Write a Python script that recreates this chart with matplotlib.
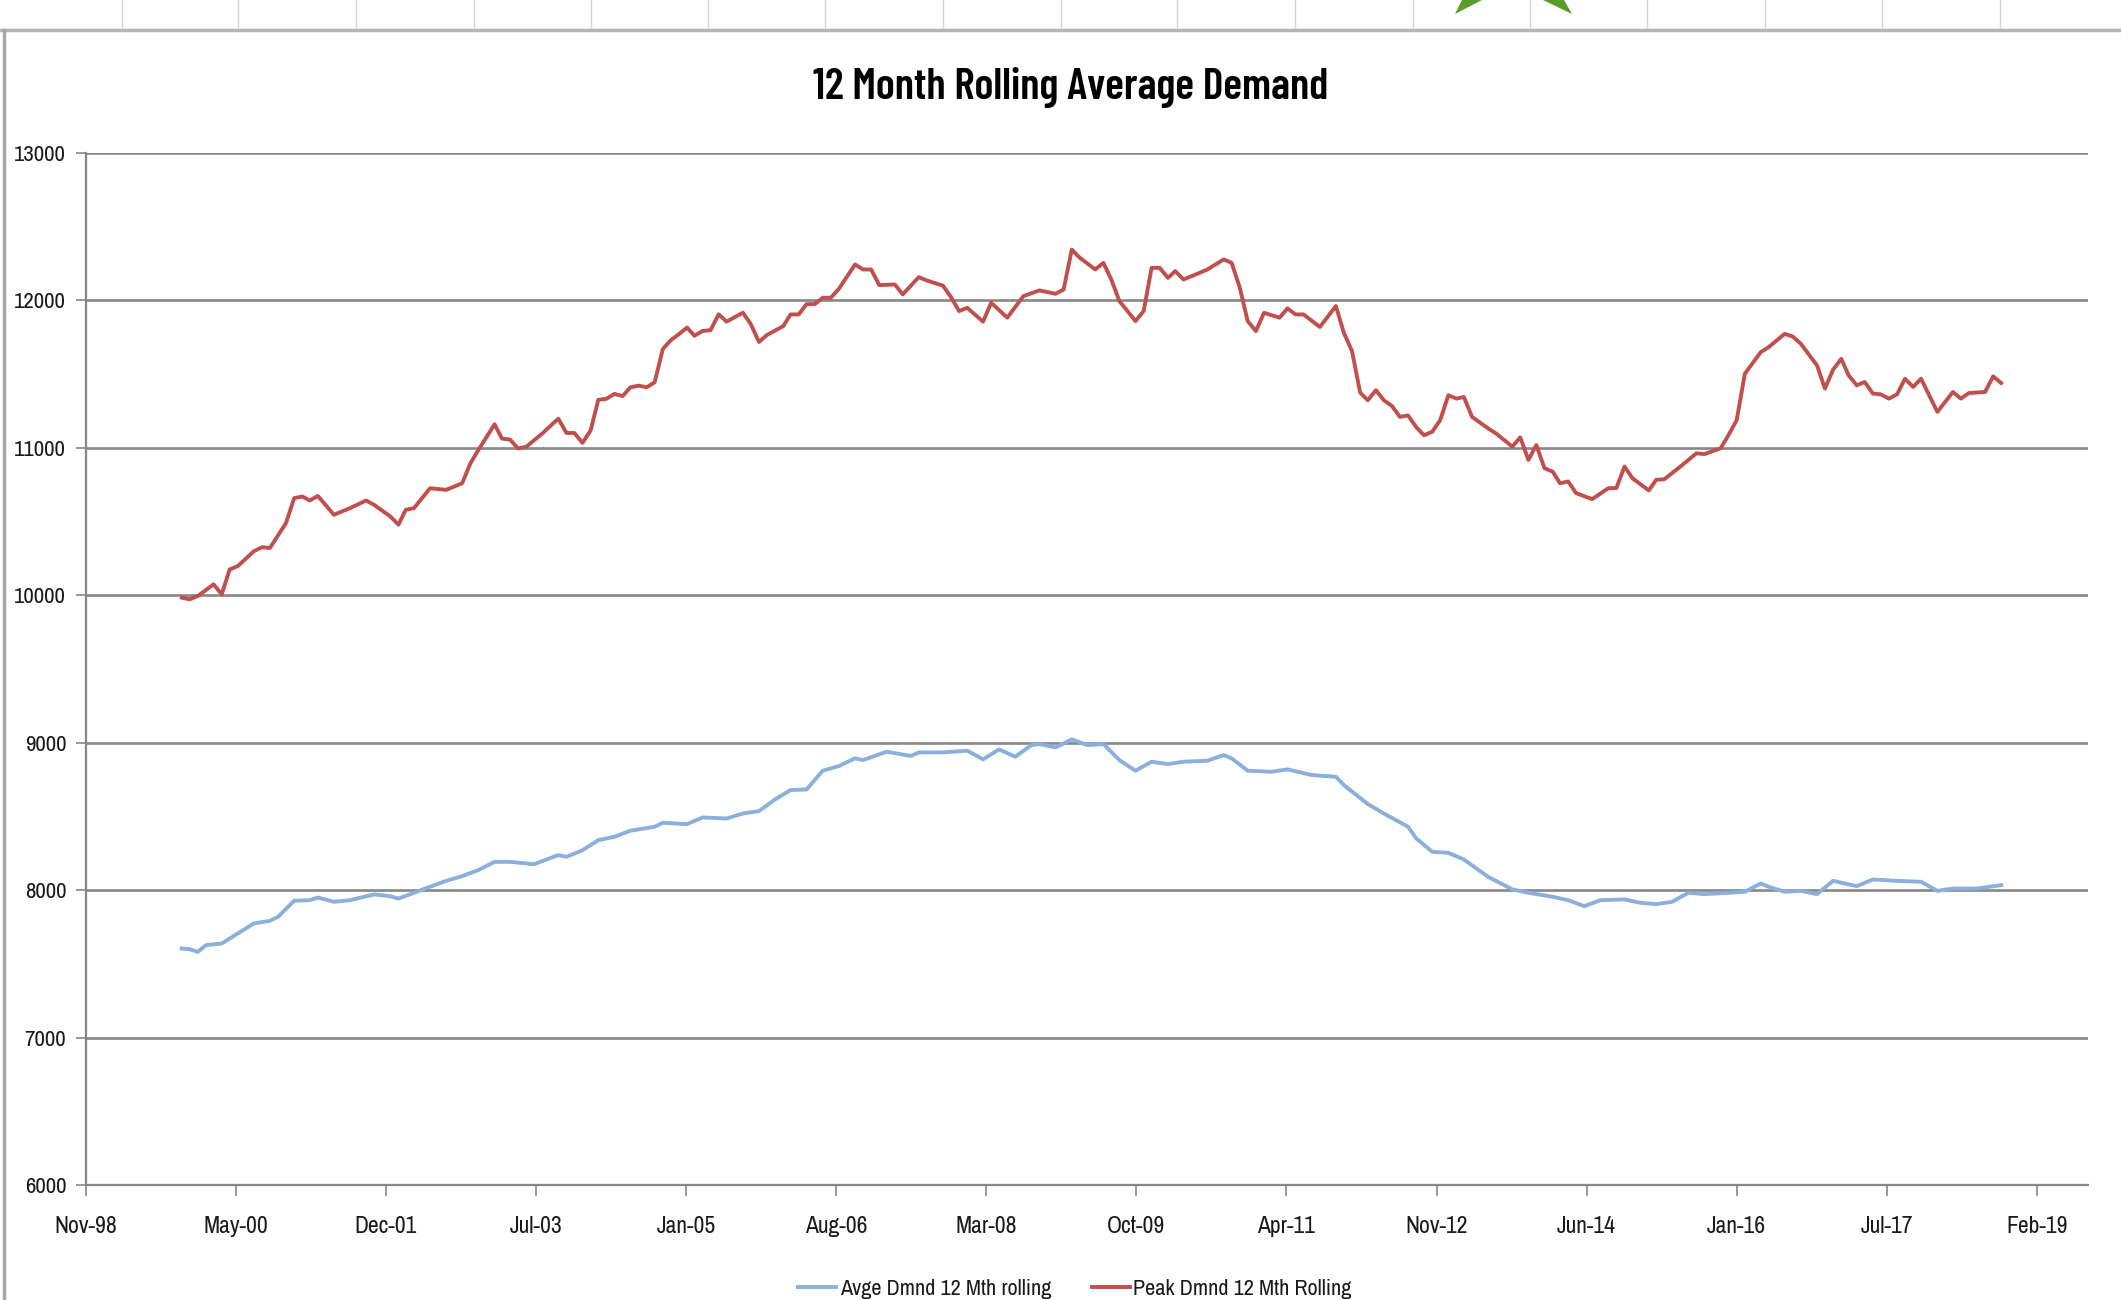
import matplotlib
matplotlib.use("Agg")
import matplotlib.pyplot as plt
import pandas as pd
from matplotlib.lines import Line2D
from matplotlib.patches import Polygon

# 12 month rolling demand.
# Months are counted from Nov-1999, the first plotted month.
peak_months = [0, 1, 2, 4, 5, 6, 7, 9, 10, 11,
               13, 14, 15, 16, 17, 19, 21, 23, 24, 26,
               27, 28, 29, 31, 33, 35, 36, 37, 39, 40,
               41, 42, 43, 45, 47, 48, 49, 50, 51, 52,
               53, 54, 55, 56, 57, 58, 59, 60, 61, 62,
               63, 64, 65, 66, 67, 68, 70, 71, 72, 73,
               75, 76, 77, 78, 79, 80, 81, 82, 84, 85,
               86, 87, 89, 90, 92, 93, 95, 96, 97, 98,
               100, 101, 103, 105, 107, 109, 110, 111, 112, 114,
               115, 116, 117, 119, 120, 121, 122, 123, 124, 125,
               127, 128, 130, 131, 132, 133, 134, 135, 137, 138,
               139, 140, 142, 144, 145, 146, 147, 148, 149, 150,
               151, 152, 153, 154, 155, 156, 157, 158, 159, 160,
               161, 163, 164, 166, 167, 168, 169, 170, 171, 172,
               173, 174, 176, 178, 179, 180, 181, 183, 184, 185,
               187, 189, 190, 192, 193, 194, 195, 197, 198, 200,
               201, 202, 204, 205, 206, 207, 208, 209, 210, 211,
               212, 213, 214, 215, 216, 217, 219, 221, 222, 223,
               225, 226, 227]
peak_values = [9984, 9973, 9995, 10074, 10007, 10175, 10198, 10299, 10326, 10321,
               10490, 10659, 10670, 10643, 10674, 10546, 10591, 10643, 10613, 10535,
               10479, 10580, 10591, 10726, 10715, 10760, 10894, 10984, 11160, 11063,
               11056, 10996, 11007, 11097, 11198, 11101, 11101, 11034, 11119, 11326,
               11333, 11366, 11351, 11411, 11422, 11411, 11445, 11670, 11730, 11771,
               11816, 11760, 11793, 11798, 11906, 11856, 11917, 11840, 11718, 11765,
               11825, 11905, 11905, 11975, 11975, 12018, 12018, 12080, 12244, 12210,
               12210, 12104, 12108, 12041, 12158, 12135, 12100, 12020, 11928, 11950,
               11856, 11984, 11883, 12029, 12068, 12045, 12074, 12345, 12293, 12210,
               12255, 12142, 11995, 11860, 11928, 12221, 12221, 12153, 12199, 12142,
               12187, 12210, 12278, 12255, 12086, 11860, 11792, 11916, 11883, 11946,
               11905, 11905, 11820, 11962, 11781, 11657, 11375, 11323, 11391, 11323,
               11284, 11210, 11220, 11140, 11085, 11110, 11188, 11357, 11334, 11345,
               11210, 11132, 11098, 11008, 11071, 10918, 11019, 10862, 10839, 10760,
               10772, 10693, 10652, 10727, 10727, 10873, 10794, 10711, 10783, 10787,
               10873, 10963, 10958, 10997, 11087, 11188, 11503, 11649, 11683, 11773,
               11755, 11705, 11559, 11402, 11530, 11604, 11492, 11424, 11447, 11368,
               11363, 11334, 11363, 11469, 11413, 11469, 11244, 11379, 11334, 11372,
               11379, 11485, 11440]

avg_months = [0, 1, 2, 3, 5, 7, 9, 11, 12, 14,
              16, 17, 19, 21, 24, 26, 27, 29, 31, 33,
              35, 37, 39, 41, 44, 47, 48, 50, 52, 54,
              56, 59, 60, 63, 65, 68, 70, 72, 74, 76,
              78, 80, 82, 84, 85, 88, 91, 92, 95, 98,
              100, 102, 104, 106, 107, 109, 110, 111, 113, 115,
              117, 119, 121, 123, 125, 128, 130, 131, 133, 136,
              138, 141, 144, 145, 148, 150, 153, 154, 156, 158,
              160, 163, 166, 168, 171, 173, 175, 177, 180, 182,
              184, 186, 188, 190, 193, 195, 197, 198, 200, 202,
              204, 206, 209, 211, 214, 217, 219, 221, 224, 227]
avg_values = [7604, 7600, 7581, 7627, 7638, 7706, 7774, 7792, 7819, 7928,
              7932, 7950, 7921, 7932, 7971, 7959, 7943, 7982, 8023, 8063,
              8095, 8136, 8192, 8192, 8176, 8238, 8226, 8271, 8339, 8362,
              8403, 8430, 8457, 8448, 8493, 8486, 8520, 8536, 8615, 8679,
              8683, 8810, 8842, 8894, 8882, 8939, 8910, 8934, 8934, 8946,
              8887, 8955, 8905, 8984, 8991, 8968, 8995, 9023, 8984, 8991,
              8882, 8810, 8871, 8855, 8871, 8878, 8916, 8894, 8810, 8803,
              8819, 8781, 8769, 8713, 8584, 8520, 8430, 8351, 8260, 8253,
              8208, 8090, 8005, 7982, 7955, 7932, 7891, 7932, 7937, 7914,
              7905, 7921, 7982, 7973, 7982, 7989, 8045, 8023, 7989, 7995,
              7973, 8063, 8027, 8072, 8063, 8057, 7995, 8011, 8011, 8034]

series_start = pd.Timestamp("1999-11-01")
axis_start = pd.Timestamp("1998-11-01")
tick_step_days = 570      # Excel date axis major unit
axis_span_days = 7604
x_tick_labels = ["Nov-98", "May-00", "Dec-01", "Jul-03", "Jan-05", "Aug-06", "Mar-08",
                 "Oct-09", "Apr-11", "Nov-12", "Jun-14", "Jan-16", "Jul-17", "Feb-19"]
y_ticks = [6000, 7000, 8000, 9000, 10000, 11000, 12000, 13000]

assert len(peak_months) == len(peak_values)
assert len(avg_months) == len(avg_values)

peak_dates = [series_start + pd.DateOffset(months=m) for m in peak_months]
avg_dates = [series_start + pd.DateOffset(months=m) for m in avg_months]
tick_dates = [axis_start + pd.Timedelta(days=tick_step_days * i) for i in range(len(x_tick_labels))]

# narrow fonts stand in for the squeezed Calibri of the screenshot
label_font = ["Archivo Narrow", "Barlow Semi Condensed", "Liberation Sans", "DejaVu Sans"]
title_font = ["Barlow Condensed", "Asap Condensed", "Liberation Sans", "DejaVu Sans"]
plt.rcParams["font.family"] = label_font

W, H = 2121, 1300
fig = plt.figure(figsize=(W / 100, H / 100), dpi=100)
fig.patch.set_facecolor("white")

grid_grey = "#878787"
text_col = "#1a1a1a"

# plot area, placed where the Excel plot area sits
ax = fig.add_axes([85.6 / W, (H - 1185) / H, (2088 - 85.6) / W, (1185 - 153) / H])

ax.plot(avg_dates, avg_values, color="#8CAFDC", lw=2.8,
        solid_joinstyle="round", label="Avge Dmnd 12 Mth rolling", zorder=3)
ax.plot(peak_dates, peak_values, color="#C0504D", lw=2.8,
        solid_joinstyle="round", label="Peak Dmnd 12 Mth Rolling", zorder=3)

ax.set_ylim(6000, 13000)
ax.set_yticks(y_ticks)
ax.set_yticklabels([str(v) for v in y_ticks])
ax.set_xlim(axis_start, axis_start + pd.Timedelta(days=axis_span_days))
ax.set_xticks(tick_dates)
ax.set_xticklabels(x_tick_labels)

ax.yaxis.grid(True, color=grid_grey, lw=1.9)
ax.set_axisbelow(True)
for side in ["top", "right"]:
    ax.spines[side].set_visible(False)
for side in ["left", "bottom"]:
    ax.spines[side].set_color(grid_grey)
    ax.spines[side].set_linewidth(1.6)

ax.tick_params(axis="x", length=8, width=1.2, color=grid_grey, pad=14.5,
               labelsize=17, labelcolor=text_col)
ax.tick_params(axis="y", length=7, width=1.2, color=grid_grey, pad=7,
               labelsize=16.5, labelcolor=text_col)

fig.text(1071 / W, 1 - 87 / H, "12 Month Rolling Average Demand",
         ha="center", va="center", fontsize=31.5, fontweight="semibold",
         family=title_font, color="black")

fig.legend(loc="center", bbox_to_anchor=(1075 / W, 1 - 1289 / H), ncol=2,
           frameon=False, fontsize=16, handlelength=1.7, handletextpad=0.15,
           columnspacing=1.85, labelcolor=text_col)

# bits of the spreadsheet around the chart (it is a screenshot)
fig.add_artist(Line2D([0, 1], [1 - 30 / H] * 2, color="#b4b4b4", lw=2.5,
                      transform=fig.transFigure))
fig.add_artist(Line2D([4 / W] * 2, [0, 1 - 30 / H], color="#a8a8a8", lw=2.5,
                      transform=fig.transFigure))
col_edges = [122, 238, 356, 474, 591, 708, 825, 943, 1061, 1177,
             1295, 1413, 1530, 1647, 1765, 1882, 2000]
for cx in col_edges:
    fig.add_artist(Line2D([cx / W] * 2, [1 - 28 / H, 1], color="#d4d4d4", lw=1,
                          transform=fig.transFigure))
leaf_left = [(1455, 14), (1462, 0), (1482, 0)]
leaf_right = [(1572, 14), (1543, 0), (1564, 0)]
for leaf in (leaf_left, leaf_right):
    fig.add_artist(Polygon([(x / W, 1 - y / H) for x, y in leaf], closed=True,
                           facecolor="#5b9b2c", edgecolor="none",
                           transform=fig.transFigure))

fig.savefig("out.png", dpi=100)
